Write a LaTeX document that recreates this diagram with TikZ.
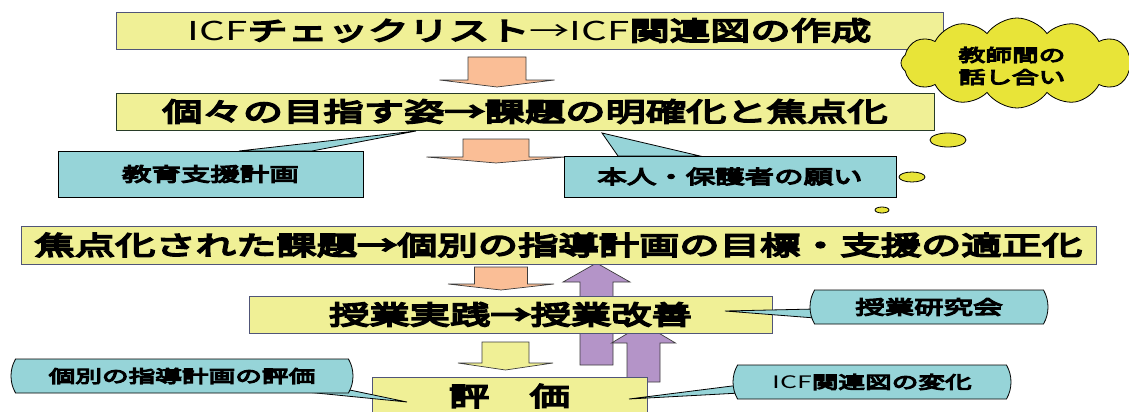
\documentclass[tikz,border=0pt]{standalone}
\usepackage{fontspec}
\newfontfamily\jpfont[FakeStretch=1.55,FakeBold=7]{Noto Sans CJK JP}
\newfontfamily\thinfont[FakeStretch=1.55]{Noto Sans CJK JP}
\definecolor{boxyellow}{RGB}{240,240,150}
\definecolor{boxline}{RGB}{80,85,120}
\definecolor{calloutteal}{RGB}{150,212,216}
\definecolor{cloudyellow}{RGB}{232,228,56}
\definecolor{arroworange}{RGB}{250,190,150}
\definecolor{arrowpurple}{RGB}{180,148,200}
\definecolor{arrowline}{RGB}{60,60,60}
\usetikzlibrary{shapes.misc,shapes.symbols,shapes.geometric}

% block arrow: fill, centre x, top, head base, tip, half shaft, half head
\newcommand\blockarrow[7]{%
  \filldraw[fill=#1,draw=arrowline,line width=0.7pt]
    (#2-#6,#3) -- (#2+#6,#3) -- (#2+#6,#4) -- (#2+#7,#4) -- (#2,#5)
    -- (#2-#7,#4) -- (#2-#6,#4) -- cycle;}

\begin{document}
\begin{tikzpicture}[x=1pt,y=-1pt,
    every node/.style={inner sep=0pt,outer sep=0pt},
    mainbox/.style={draw=boxline,fill=boxyellow,line width=0.8pt,minimum height=37pt,
      font=\jpfont\fontsize{26}{30}\selectfont},
    calloutbox/.style={draw=black,fill=calloutteal,line width=0.8pt,
      font=\jpfont\fontsize{19}{22}\selectfont},
    smalltext/.style={font=\jpfont\fontsize{17.2}{22}\selectfont},
    roundcallout/.style={calloutbox,rounded rectangle,rounded rectangle arc length=60,minimum height=34pt},
    pointer/.style={draw=black,fill=calloutteal,line width=0.8pt},
    bubble/.style={ellipse,draw=black,fill=cloudyellow,line width=0.8pt}
    ]
    \useasboundingbox (0,0) rectangle (1129,412);

    % up arrows, behind the boxes
    \blockarrow{arrowpurple}{596.5}{365}{282}{263}{16.5}{33.5}
    \blockarrow{arrowpurple}{643.5}{382}{343}{324}{16.5}{32}

    \node[mainbox,minimum width=827pt] (icf) at (529.5,30.5)
      {{\thinfont ICF}チェックリスト{\thinfont →ICF}関連図の作成};
    \node[mainbox,minimum width=818pt,draw={rgb,255:red,40;green,60;blue,40}] (goal) at (525,111.5)
      {個々の目指す姿→課題の明確化と焦点化};
    \node[mainbox,minimum width=1075pt,minimum height=38pt] (focus) at (558.5,245)
      {焦点化された課題→個別の指導計画の目標・支援の適正化};
    \node[mainbox,minimum width=523pt] (lesson) at (510.5,314.5) {授業実践→授業改善};
    \node[mainbox,minimum width=275pt,minimum height=38pt] (eval) at (509.5,396) {評　価};

    % down arrows
    \blockarrow{arroworange}{497}{57}{80}{87}{29}{57.5}
    \blockarrow{arroworange}{496}{139}{157}{163}{33}{69.5}
    \blockarrow{arroworange}{501}{267}{284}{290}{26.5}{53}
    \blockarrow{boxyellow}{505.5}{342}{363}{370}{23.5}{47.5}

    % the callouts
    \coordinate (plantip) at (416,131);
    \coordinate (wishtip) at (602,133);
    \coordinate (evaltip) at (407,402);
    \coordinate (studytip) at (725,311);
    \coordinate (changetip) at (629,399);
    \filldraw[pointer] (239,151) -- (plantip) -- (312,151) -- cycle;
    \filldraw[pointer] (618,156) -- (wishtip) -- (700,156) -- cycle;
    \filldraw[pointer] (296,391) -- (evaltip) -- (345,389) -- cycle;
    \filldraw[pointer] (815,309) -- (studytip) -- (815,318) -- cycle;
    \filldraw[pointer] (740,385) -- (changetip) -- (740,393) -- cycle;

    \node[calloutbox,minimum width=305pt,minimum height=46pt] (plan) at (210.5,174) {教育支援計画};
    \node[calloutbox,minimum width=332pt,minimum height=41pt] (wish) at (730,176.5) {本人・保護者の願い};
    \node[roundcallout,smalltext,minimum width=342pt] (evalplan) at (182,376) {個別の指導計画の評価};
    \node[roundcallout,minimum width=238pt] (study) at (929,307) {授業研究会};
    \node[roundcallout,smalltext,minimum width=278pt] (change) at (872,382) {{\thinfont ICF}関連図の変化};

    % thought cloud
    \node[cloud,cloud puffs=12,cloud puff arc=110,aspect=2.5,draw=black,fill=cloudyellow,
      line width=0.8pt,minimum width=232pt,minimum height=90pt] (talk) at (1017,63) {};
    \node[align=center,smalltext] (talktext) at (1012,66) {教師間の\\話し合い};
    \node[bubble,minimum width=36pt,minimum height=14pt] (bubble1) at (948,140) {};
    \node[bubble,minimum width=26pt,minimum height=10pt] (bubble2) at (912,177) {};
    \node[bubble,minimum width=14pt,minimum height=6pt] (bubble3) at (882,210) {};
\end{tikzpicture}
\end{document}
